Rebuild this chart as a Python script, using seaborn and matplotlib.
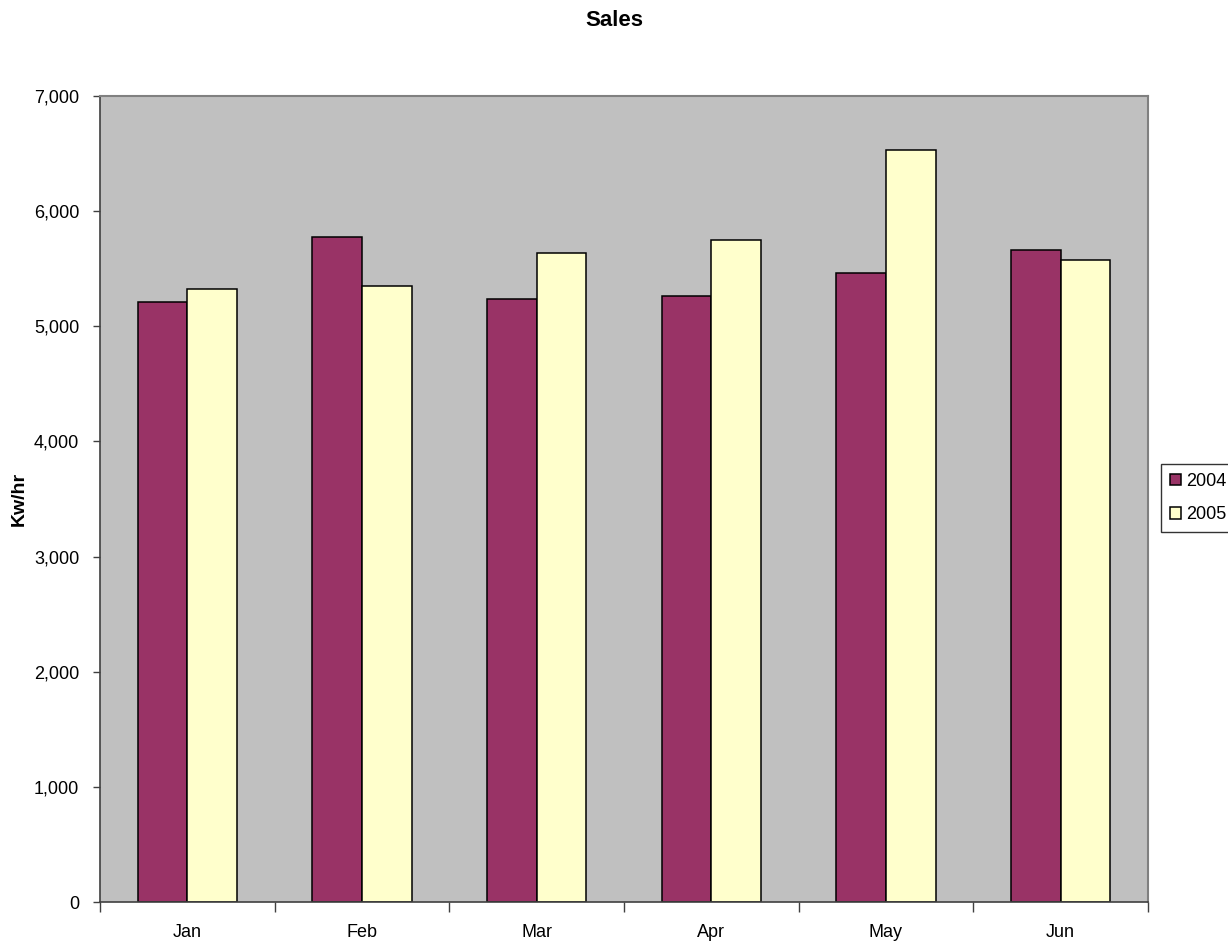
import numpy as np
import pandas as pd
import seaborn as sns
import matplotlib
import matplotlib.pyplot as plt
from matplotlib.ticker import FuncFormatter, FixedLocator

sns.set_style('ticks')
plt.rcParams['font.family'] = ['Liberation Sans', 'DejaVu Sans']
plt.rcParams['text.color'] = 'black'
plt.rcParams['axes.labelcolor'] = 'black'
plt.rcParams['xtick.labelcolor'] = 'black'
plt.rcParams['ytick.labelcolor'] = 'black'

months = ['Jan', 'Feb', 'Mar', 'Apr', 'May', 'Jun']
sales_2004 = [5210, 5774, 5241, 5259, 5464, 5664]
sales_2005 = [5323, 5354, 5635, 5748, 6534, 5577]

df = pd.DataFrame({
    'month': months * 2,
    'year': ['2004'] * len(months) + ['2005'] * len(months),
    'sales': sales_2004 + sales_2005,
})

fig = plt.figure(figsize=(12.28, 9.47), dpi=100)
ax = fig.add_axes([100 / 1228, 1 - 902 / 947, 1048 / 1228, 806 / 947])
ax.set_facecolor('#C0C0C0')

sns.barplot(data=df, x='month', y='sales', hue='year',
            palette={'2004': '#993366', '2005': '#FFFFCC'},
            width=0.567, edgecolor='black', linewidth=1.1,
            saturation=1, ax=ax)

ax.set_xlim(-0.5, len(months) - 0.5)
ax.set_ylim(0, 7000)
ax.set_yticks(np.arange(0, 7001, 1000))
ax.yaxis.set_major_formatter(FuncFormatter(lambda v, p: f'{int(v):,}'))

# ticks between categories, labels centred under them
ax.xaxis.set_minor_locator(FixedLocator(np.arange(-0.5, len(months), 1.0)))
ax.tick_params(axis='x', which='major', length=0, pad=16, labelsize=13)
ax.tick_params(axis='x', which='minor', length=7, width=1, color='#404040', direction='out')
ax.tick_params(axis='y', length=5, width=1, color='#404040', pad=10, labelsize=13)

for side in ['left', 'bottom']:
    ax.spines[side].set_color('#404040')
    ax.spines[side].set_linewidth(1.2)
for side in ['top', 'right']:
    ax.spines[side].set_visible(True)
    ax.spines[side].set_color('#808080')
    ax.spines[side].set_linewidth(1.5)

ax.set_xlabel('')
ax.set_ylabel('Kw/hr', fontsize=14, fontweight='bold', labelpad=4)
fig.suptitle('Sales', x=0.5, y=1 - 20 / 947, va='center', fontsize=16, fontweight='bold')

leg = ax.legend(loc='upper left', bbox_to_anchor=(1161 / 1228, 1 - 464 / 947),
                bbox_transform=fig.transFigure, frameon=True, fancybox=False,
                fontsize=13, handlelength=0.6, handleheight=0.6, handletextpad=0.3,
                labelspacing=0.9, borderpad=0.5, borderaxespad=0)
leg.get_frame().set_edgecolor('black')
leg.get_frame().set_linewidth(1)

fig.savefig('out.png', dpi=100)
